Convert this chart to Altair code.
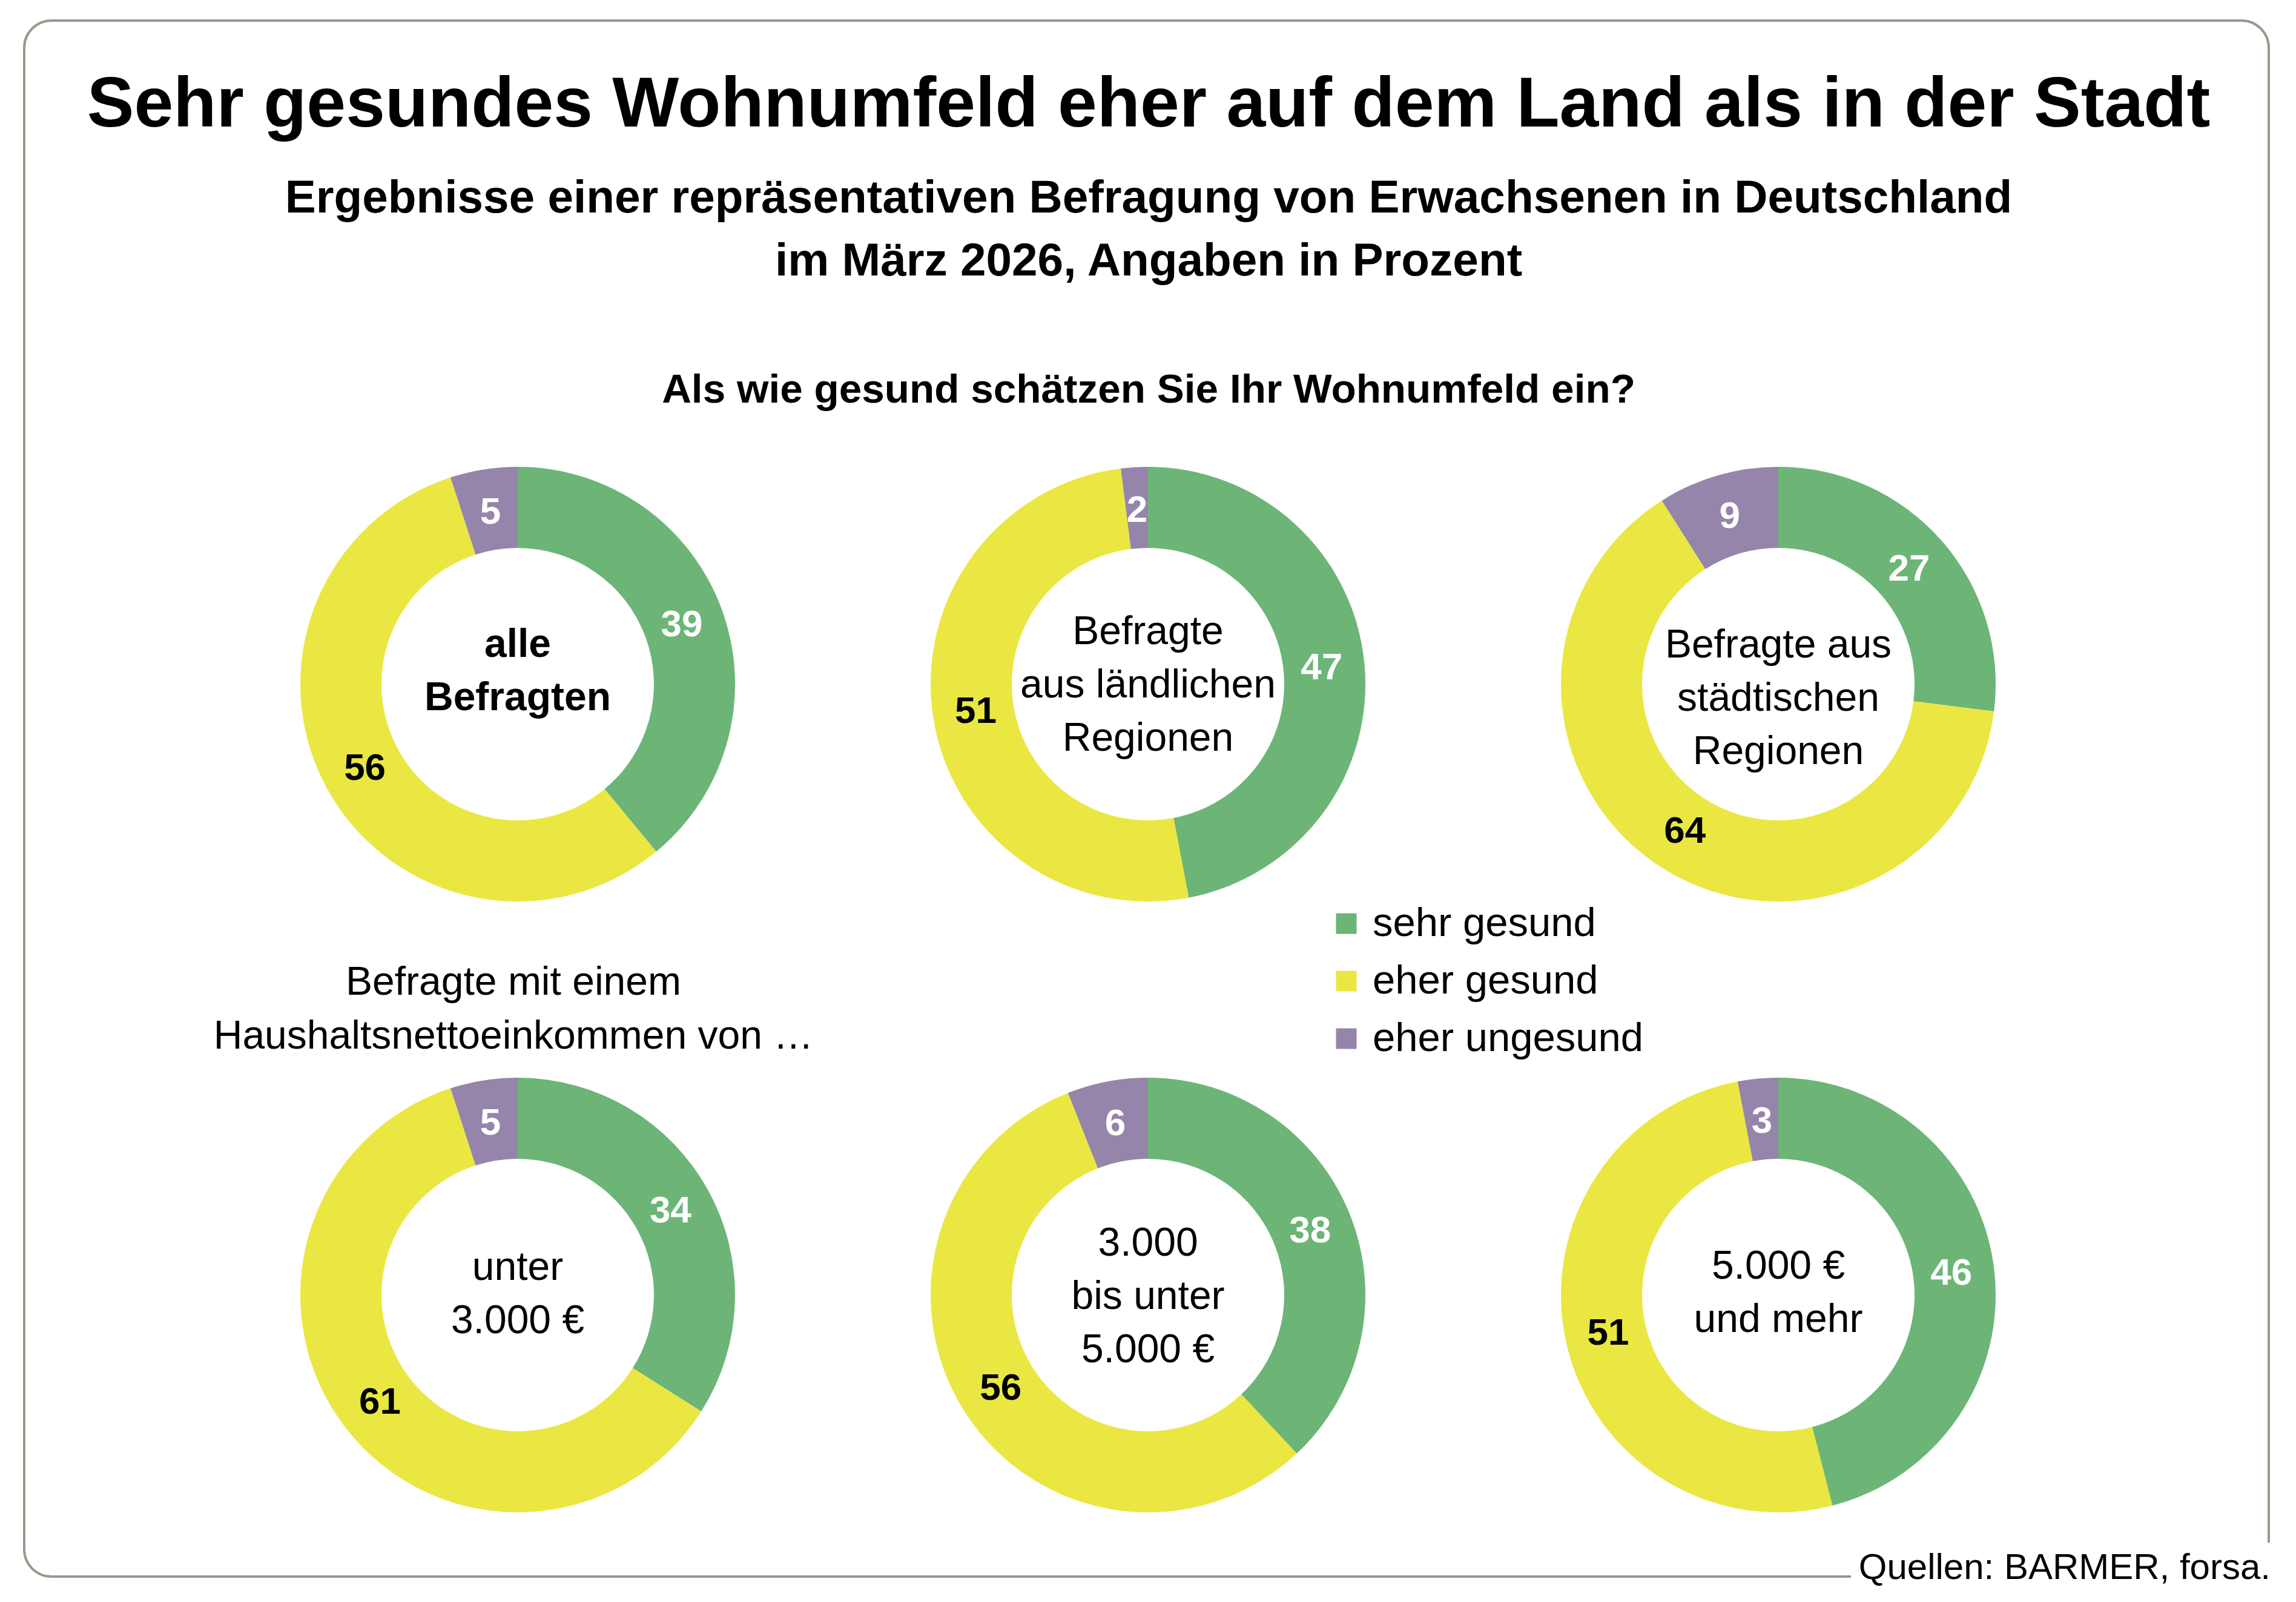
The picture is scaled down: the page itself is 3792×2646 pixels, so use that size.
import math
import altair as alt
import pandas as pd

# ---------------- data ----------------
categories = ["sehr gesund", "eher gesund", "eher ungesund"]
panels = [
    "alle Befragten",
    "Befragte aus ländlichen Regionen",
    "Befragte aus städtischen Regionen",
    "unter 3.000 €",
    "3.000 bis unter 5.000 €",
    "5.000 € und mehr",
]
center_labels = [
    "alle\nBefragten",
    "Befragte\naus ländlichen\nRegionen",
    "Befragte aus\nstädtischen\nRegionen",
    "unter\n3.000 €",
    "3.000\nbis unter\n5.000 €",
    "5.000 €\nund mehr",
]
sehr_gesund = [39, 47, 27, 34, 38, 46]
eher_gesund = [56, 51, 64, 61, 56, 51]
eher_ungesund = [5, 2, 9, 5, 6, 3]

title_text = ["Sehr gesundes Wohnumfeld eher auf dem Land als in der Stadt"]
subtitle_text = ["Ergebnisse einer repräsentativen Befragung von Erwachsenen in Deutschland\nim März 2026, Angaben in Prozent"]
question_text = ["Als wie gesund schätzen Sie Ihr Wohnumfeld ein?"]
income_text = ["Befragte mit einem\nHaushaltsnettoeinkommen von …"]
source_text = ["Quellen: BARMER, forsa."]

# ---------------- layout / style ----------------
W, H = 3792, 2646
FONT = "Liberation Sans"
colors = ["#6cb577", "#eae742", "#9585aa"]
border_color = "#9b978a"
panel_cx = [855, 1896, 2937, 855, 1896, 2937]
panel_cy = [1130, 1130, 1130, 2139, 2139, 2139]
label_dy = [-21, 2, 24, -1, 3, -3]
LINE_H = 88
R_OUT, R_IN, R_LABEL = 359, 225, 288

series = [sehr_gesund, eher_gesund, eher_ungesund]
rows = []
for i, p in enumerate(panels):
    for j, cat in enumerate(categories):
        rows.append({"panel": p, "category": cat, "order": j,
                     "value": series[j][i], "cx": panel_cx[i], "cy": panel_cy[i]})
slices = pd.DataFrame(rows)

text_y = []
for i, lab in enumerate(center_labels):
    n = lab.count("\n") + 1
    text_y.append(panel_cy[i] - (n - 1) * LINE_H / 2 + label_dy[i])

centers = pd.DataFrame({
    "panel": panels,
    "label": center_labels,
    "cx": panel_cx,
    "cy": text_y,
    "bold": [i == 0 for i in range(len(panels))],
})

theta_scale = alt.Scale(domain=[0, 100], range=[0, 2 * math.pi])
X = alt.X("cx:Q", scale=None, axis=None)
Y = alt.Y("cy:Q", scale=None, axis=None)

base = alt.Chart(slices).transform_window(
    end="sum(value)",
    groupby=["panel"],
    sort=[alt.SortField("order", order="ascending")],
    frame=[None, 0],
).transform_calculate(
    start="datum.end - datum.value",
    mid="datum.end - datum.value / 2",
)

arcs = base.mark_arc(outerRadius=R_OUT, innerRadius=R_IN).encode(
    x=X,
    y=Y,
    theta=alt.Theta("start:Q", scale=theta_scale, stack=False),
    theta2="end:Q",
    color=alt.Color(
        "category:N",
        scale=alt.Scale(domain=categories, range=colors),
        legend=alt.Legend(
            orient="none",
            legendX=2190,
            legendY=1492,
            title=None,
            symbolType="square",
            symbolSize=1156,
            symbolStrokeWidth=0,
            labelFont=FONT,
            labelFontSize=67,
            labelColor="black",
            labelOffset=10,
            labelLimit=1200,
            rowPadding=27,
            padding=0,
        ),
    ),
)

value_labels = base.mark_text(
    radius=R_LABEL, font=FONT, fontSize=62, fontWeight="bold",
    align="center", baseline="middle",
).encode(
    x=X,
    y=Y,
    theta=alt.Theta("mid:Q", scale=theta_scale, stack=False),
    text=alt.Text("value:Q"),
    color=alt.condition(alt.datum.category == "eher gesund",
                        alt.value("black"), alt.value("white")),
)

center_bold = alt.Chart(centers).transform_filter("datum.bold").mark_text(
    font=FONT, fontSize=66, fontWeight="bold", lineBreak="\n", lineHeight=LINE_H,
    align="center", baseline="middle", color="black",
).encode(x=X, y=Y, text="label:N")

center_regular = alt.Chart(centers).transform_filter("!datum.bold").mark_text(
    font=FONT, fontSize=66, lineBreak="\n", lineHeight=LINE_H,
    align="center", baseline="middle", color="black",
).encode(x=X, y=Y, text="label:N")

one = pd.DataFrame({"k": [0]})

border = alt.Chart(one).mark_rect(
    fill="white", stroke=border_color, strokeWidth=4, cornerRadius=45
).encode(x=alt.value(40), x2=alt.value(3747), y=alt.value(34), y2=alt.value(2604))

mask = alt.Chart(one).mark_rect(fill="white").encode(
    x=alt.value(3057), x2=alt.value(W), y=alt.value(2548), y2=alt.value(H)
)


def text_layer(lines, x, y, size, bold=False, align="center", lh=None):
    kw = dict(font=FONT, fontSize=size, align=align, baseline="alphabetic",
              color="black", lineBreak="\n")
    if bold:
        kw["fontWeight"] = "bold"
    if lh is not None:
        kw["lineHeight"] = lh
    return alt.Chart(pd.DataFrame({"t": lines})).mark_text(**kw).encode(
        x=alt.value(x), y=alt.value(y), text="t:N"
    )


title = text_layer(title_text, 1897, 209, 116.5, bold=True)
subtitle = text_layer(subtitle_text, 1897, 351, 76.5, bold=True, lh=104)
question = text_layer(question_text, 1897, 665, 67.5, bold=True)
income = text_layer(income_text, 848, 1643, 66, lh=89)
source = text_layer(source_text, 3750, 2608, 60, align="right")

chart = alt.layer(
    border, mask, arcs, value_labels, center_bold, center_regular,
    title, subtitle, question, income, source,
).properties(
    width=W, height=H, autosize=alt.AutoSizeParams(type="none"), padding=0,
    background="white",
).configure_view(strokeWidth=0)

chart.save("out.html", embed_options={"renderer": "svg", "actions": False})
